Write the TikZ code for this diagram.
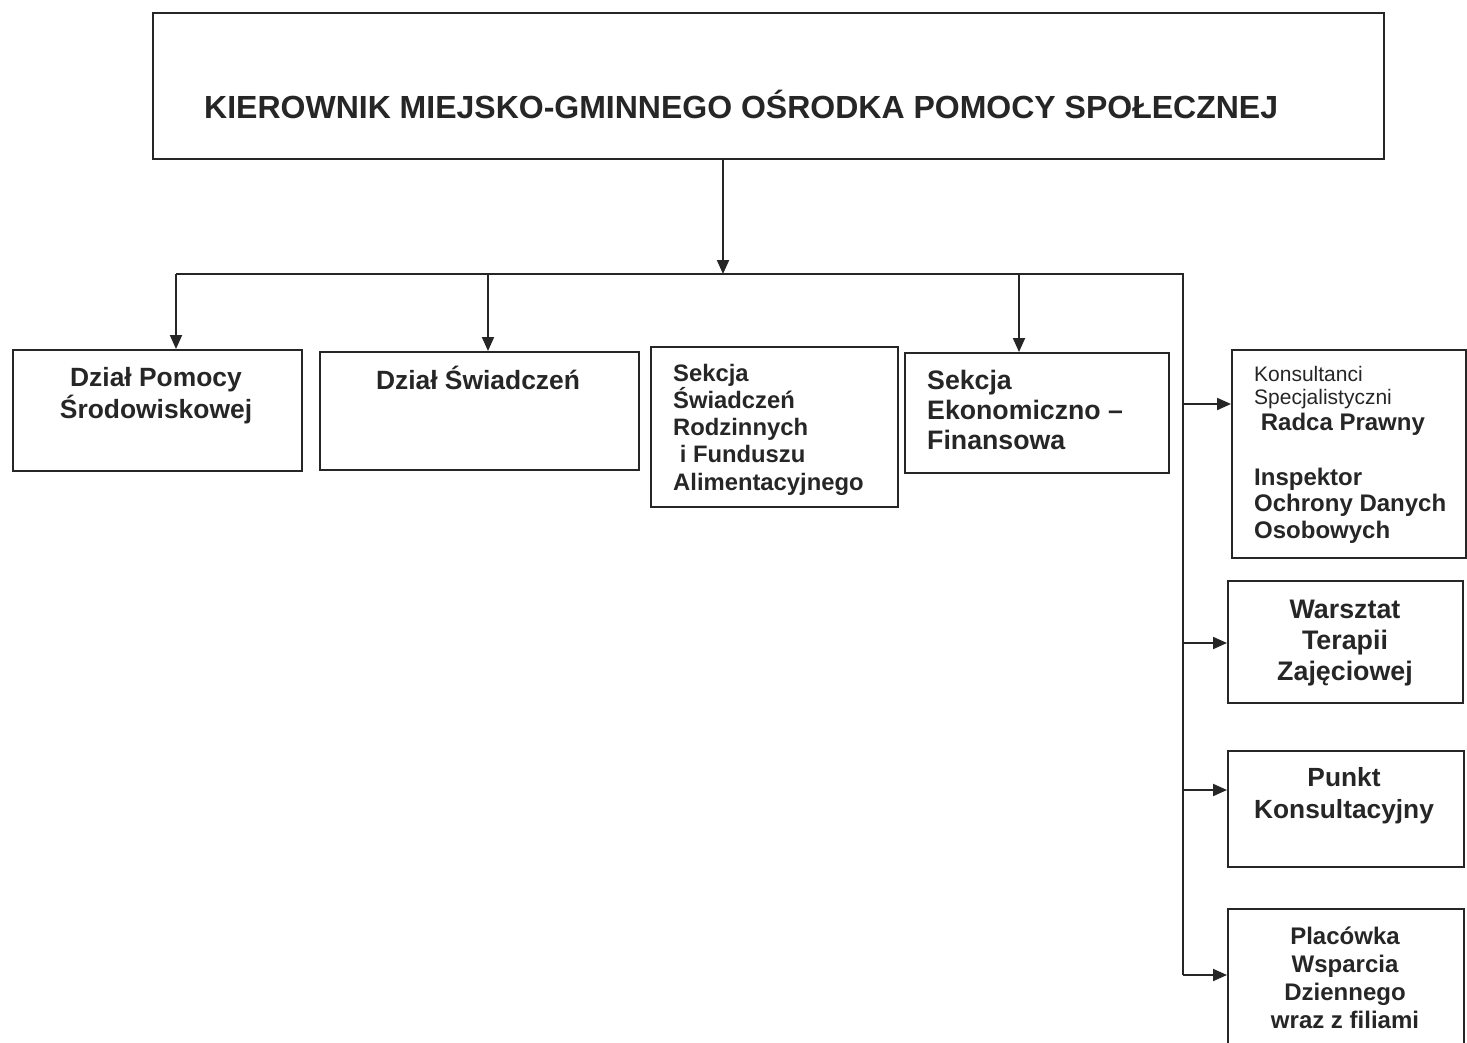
\documentclass[tikz,border=0pt]{standalone}
\usepackage{fontspec}
\setmainfont{Liberation Sans}
\usetikzlibrary{arrows.meta}
\definecolor{ink}{RGB}{38,38,38}
\begin{document}
\begin{tikzpicture}[x=1pt,y=-1pt,
  box/.style={draw=ink, line width=2.2pt, rectangle, inner sep=0pt, anchor=north west},
  conn/.style={draw=ink, line width=2pt},
  arr/.style={conn, -{Triangle[length=14pt,width=12pt]}},
  lbl/.style={text=ink, inner sep=0pt, font=\bfseries},
]
\clip (0,0) rectangle (1467,1043);
\fill[white] (0,0) rectangle (1467,1043);
% boxes
\node[box, minimum width=1231pt, minimum height=146pt] (top) at (152,12) {};
\node[box, minimum width=289pt, minimum height=121pt] (b1) at (12,349) {};
\node[box, minimum width=319pt, minimum height=118pt] (b2) at (319,351) {};
\node[box, minimum width=247pt, minimum height=160pt] (b3) at (650,346) {};
\node[box, minimum width=264pt, minimum height=120pt] (b4) at (904,352) {};
\node[box, minimum width=234pt, minimum height=208pt] (b5) at (1231,349) {};
\node[box, minimum width=235pt, minimum height=122pt] (b6) at (1227,580) {};
\node[box, minimum width=236pt, minimum height=116pt] (b7) at (1227,750) {};
\node[box, minimum width=236pt, minimum height=160pt] (b8) at (1227,908) {};
% texts (anchor=base is the baseline of the last line)
\node[lbl, anchor=base west, font=\bfseries\fontsize{32}{36}\selectfont] (t0) at (204,119) {KIEROWNIK MIEJSKO-GMINNEGO OŚRODKA POMOCY SPOŁECZNEJ};
\node[lbl, anchor=base, align=center, font=\bfseries\fontsize{26.4}{32}\selectfont] (t1) at (156,418) {Dział Pomocy\\Środowiskowej};
\node[lbl, anchor=base, font=\bfseries\fontsize{26.4}{32}\selectfont] (t2) at (478,389) {Dział Świadczeń};
\node[lbl, anchor=base west, align=left, font=\bfseries\fontsize{23.8}{27.2}\selectfont] (t3) at (673,490) {Sekcja\\Świadczeń\\Rodzinnych\\\ i Funduszu\\Alimentacyjnego};
\node[lbl, anchor=base west, align=left, font=\bfseries\fontsize{26.7}{30}\selectfont] (t4) at (927,449) {Sekcja\\Ekonomiczno –\\Finansowa};
\node[text=ink, inner sep=0pt, anchor=base west, align=left, font=\fontsize{21}{23}\selectfont] (t5a) at (1254,404) {Konsultanci\\Specjalistyczni};
\node[lbl, anchor=base west, align=left, font=\bfseries\fontsize{24}{26.5}\selectfont] (t5b) at (1254,538) {\ Radca Prawny\\[28.5pt]Inspektor\\Ochrony Danych\\Osobowych};
\node[lbl, anchor=base, align=center, font=\bfseries\fontsize{26.8}{31}\selectfont] (t6) at (1345,680) {Warsztat\\Terapii\\Zajęciowej};
\node[lbl, anchor=base, align=center, font=\bfseries\fontsize{26.3}{32}\selectfont] (t7) at (1344,818) {Punkt\\Konsultacyjny};
\node[lbl, anchor=base, align=center, font=\bfseries\fontsize{24}{28}\selectfont] (t8) at (1345,1028) {Placówka\\Wsparcia\\Dziennego\\wraz z filiami};
% bus coordinates
\coordinate (busM) at (723,274);
\coordinate (busL) at (176,274);
\coordinate (busR) at (1183,274);
\coordinate (busB) at (1183,975);
% connectors
\draw[arr] (top.south -| busM) -- (busM);
\draw[conn] (busL) -- (busR) -- (busB);
\draw[arr] (busL) -- (b1.north -| busL);
\draw[arr] (488,274) -- (b2.north -| 488,0);
\draw[arr] (1019,274) -- (b4.north -| 1019,0);
\draw[arr] (1183,404) -- (b5.west |- 0,404);
\draw[arr] (1183,643) -- (b6.west |- 0,643);
\draw[arr] (1183,790) -- (b7.west |- 0,790);
\draw[arr] (busB) -- (b8.west |- busB);
\end{tikzpicture}
\end{document}
